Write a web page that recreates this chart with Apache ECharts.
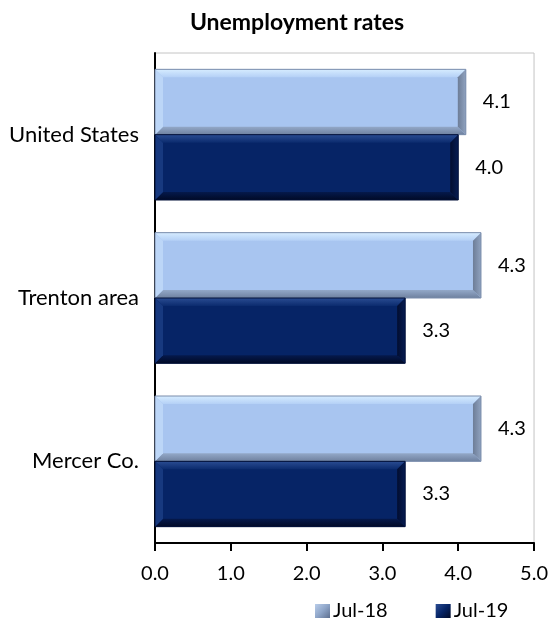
<!DOCTYPE html>
<html>
<head>
<meta charset="utf-8">
<script src="https://cdn.jsdelivr.net/npm/echarts@6/dist/echarts.min.js"></script>
<style>
	html, body { margin: 0; padding: 0; background: #fff; }
	#chart { width: 551px; height: 618px; }
</style>
</head>
<body>
<div id="chart"></div>
<script>
	var categories = ["Mercer Co.", "Trenton area", "United States"];
	var jul18 = [4.3, 4.3, 4.1];
	var jul19 = [3.3, 3.3, 4.0];
	var seriesNames = ["Jul-18", "Jul-19"];

	var FONT = "Lato";
	var BEVEL = 8;

	// bevel colours: base, top, left, right, bottom
	var palette = {
		"Jul-18": {
			base: "#a8c5f0",
			top: ["#d6ecff", "#b4d0f6"],
			left: "#bcd6f7",
			right: ["#6d7d97", "#8fa2bf"],
			bottom: ["#93a8c8", "#6f819f"],
			stroke: "#7a8cab"
		},
		"Jul-19": {
			base: "#062466",
			top: ["#2a4c92", "#0b2b6e"],
			left: "#17397f",
			right: ["#020d30", "#061c52"],
			bottom: ["#05194c", "#010a26"],
			stroke: "#021038"
		}
	};

	function vGrad(c) {
		return new echarts.graphic.LinearGradient(0, 0, 0, 1, [
			{ offset: 0, color: c[0] }, { offset: 1, color: c[1] }
		]);
	}
	function hGrad(c) {
		return new echarts.graphic.LinearGradient(0, 0, 1, 0, [
			{ offset: 0, color: c[0] }, { offset: 1, color: c[1] }
		]);
	}

	function makeRender(name, isUpper) {
		var pal = palette[name];
		return function(params, api) {
			var val = api.value(0);
			var cat = api.value(1);
			var start = api.coord([0, cat]);
			var end = api.coord([val, cat]);
			var band = api.size([0, 1])[1];
			var h = band * 0.4;
			var x0 = start[0], x1 = end[0];
			var y0 = isUpper ? start[1] - h : start[1];
			var y1 = y0 + h;
			var b = BEVEL;
			return {
				type: "group",
				children: [{
					type: "rect",
					shape: { x: x0, y: y0, width: x1 - x0, height: h },
					style: { fill: pal.base }
				}, {
					type: "polygon",
					shape: { points: [[x0, y0], [x1, y0], [x1 - b, y0 + b], [x0 + b, y0 + b]] },
					style: { fill: vGrad(pal.top) }
				}, {
					type: "polygon",
					shape: { points: [[x0, y1], [x1, y1], [x1 - b, y1 - b], [x0 + b, y1 - b]] },
					style: { fill: vGrad(pal.bottom) }
				}, {
					type: "polygon",
					shape: { points: [[x0, y0], [x0 + b, y0 + b], [x0 + b, y1 - b], [x0, y1]] },
					style: { fill: pal.left }
				}, {
					type: "polygon",
					shape: { points: [[x1, y0], [x1 - b, y0 + b], [x1 - b, y1 - b], [x1, y1]] },
					style: { fill: hGrad(pal.right) }
				}, {
					type: "rect",
					shape: { x: x0, y: y0, width: x1 - x0, height: h },
					style: { fill: null, stroke: pal.stroke, lineWidth: 1 }
				}, {
					type: "text",
					x: x1 + 17,
					y: y0 + h / 2,
					style: {
						text: val.toFixed(1),
						fill: "#000",
						font: "20px " + FONT,
						verticalAlign: "middle"
					}
				}]
			};
		};
	}

	function pairs(arr) {
		return arr.map(function(v, i) { return [v, i]; });
	}

	var option = {
		backgroundColor: "#fff",
		animation: false,
		title: {
			text: "Unemployment rates",
			left: 292,
			textAlign: "center",
			top: 6,
			textStyle: { fontFamily: FONT, fontSize: 23, fontWeight: "bold", color: "#000" }
		},
		legend: {
			data: [{
				name: "Jul-18",
				itemStyle: { color: new echarts.graphic.LinearGradient(0, 0, 1, 1, [
					{ offset: 0, color: "#b9cdea" }, { offset: 0.5, color: "#8ea5c8" }, { offset: 1, color: "#5d6f8f" }
				]) }
			}, {
				name: "Jul-19",
				itemStyle: { color: new echarts.graphic.LinearGradient(0, 0, 1, 1, [
					{ offset: 0, color: "#2a4c92" }, { offset: 0.5, color: "#062466" }, { offset: 1, color: "#010a26" }
				]) }
			}],
			left: 310,
			top: 596,
			icon: "rect",
			itemWidth: 15,
			itemHeight: 14,
			itemGap: 48,
			textStyle: { fontFamily: FONT, fontSize: 20, color: "#000", padding: [0, 0, 0, -2] }
		},
		grid: {
			left: 155,
			right: 16,
			top: 53,
			bottom: 75,
			show: true,
			borderColor: "#c4c4c4",
			borderWidth: 1,
			containLabel: false
		},
		xAxis: {
			type: "value",
			min: 0,
			max: 5,
			interval: 1,
			axisLine: { show: true, lineStyle: { color: "#000", width: 2 } },
			axisTick: { show: true, length: 8, lineStyle: { color: "#000", width: 2 } },
			splitLine: { show: false },
			axisLabel: {
				margin: 21,
				color: "#000",
				fontFamily: FONT,
				fontSize: 20,
				formatter: function(v) { return v.toFixed(1); }
			}
		},
		yAxis: {
			type: "category",
			data: categories,
			axisLine: { show: true, lineStyle: { color: "#000", width: 2 } },
			axisTick: { show: false },
			axisLabel: { margin: 16, color: "#000", fontFamily: FONT, fontSize: 22 }
		},
		series: [{
			name: seriesNames[0],
			type: "custom",
			data: pairs(jul18),
			encode: { x: 0, y: 1 },
			renderItem: makeRender(seriesNames[0], true),
			z: 1
		}, {
			name: seriesNames[1],
			type: "custom",
			data: pairs(jul19),
			encode: { x: 0, y: 1 },
			renderItem: makeRender(seriesNames[1], false),
			z: 1
		}]
	};

	var chart = echarts.init(document.getElementById("chart"));
	chart.setOption(option);
</script>
</body>
</html>
